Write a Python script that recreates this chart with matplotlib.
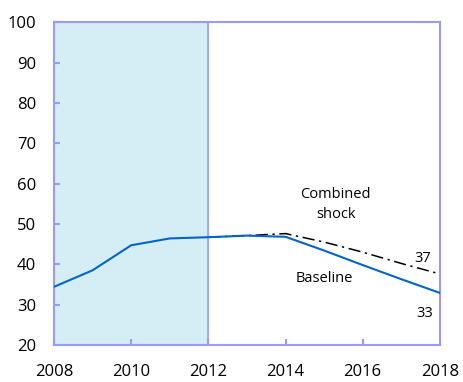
import matplotlib
matplotlib.use("Agg")
import matplotlib.pyplot as plt

years = [2008, 2009, 2010, 2011, 2012, 2013, 2014, 2015, 2016, 2017, 2018]
baseline = [34.4, 38.5, 44.7, 46.4, 46.7, 47.1, 46.8, 43.4, 39.8, 36.3, 32.9]
shock_years = [2012, 2013, 2014, 2015, 2016, 2017, 2018]
combined_shock = [46.7, 47.1, 47.6, 45.5, 43.0, 40.2, 37.6]

x_ticks = [2008, 2010, 2012, 2014, 2016, 2018]
y_ticks = [20, 30, 40, 50, 60, 70, 80, 90, 100]

spine_col = "#9999FF"
plt.rcParams["font.family"] = ["Open Sans", "DejaVu Sans"]

fig = plt.figure(figsize=(4.63, 3.82), dpi=100)
ax = fig.add_axes([0.1166, 0.097, 0.8334, 0.845])

ax.axvspan(2008, 2012, color="#D5EDF5", zorder=0)
ax.axvline(2012, color=spine_col, lw=1.2, zorder=1)

ax.plot(shock_years, combined_shock, color="black", lw=1.1, ls=(0, (8, 3, 1.5, 3)), zorder=2)
ax.plot(years, baseline, color="#0066CC", lw=1.5, zorder=3)

ax.set_xlim(2008, 2018)
ax.set_ylim(20, 100)
ax.set_xticks(x_ticks)
ax.set_yticks(y_ticks)
ax.tick_params(direction="in", length=4, width=1.5, color=spine_col, labelsize=12)
ax.tick_params(axis="x", pad=14)
ax.tick_params(axis="y", pad=13)

for s in ax.spines.values():
    s.set_color(spine_col)
    s.set_linewidth(1.5)

ax.text(2015.3, 54.8, "Combined\nshock", ha="center", va="center", fontsize=10.5, linespacing=1.4)
ax.text(2015.0, 36.5, "Baseline", ha="center", va="center", fontsize=10.5)
ax.text(2017.55, 41.4, "37", ha="center", va="center", fontsize=10.5)
ax.text(2017.6, 27.7, "33", ha="center", va="center", fontsize=10.5)

fig.savefig("out.png", dpi=100)
